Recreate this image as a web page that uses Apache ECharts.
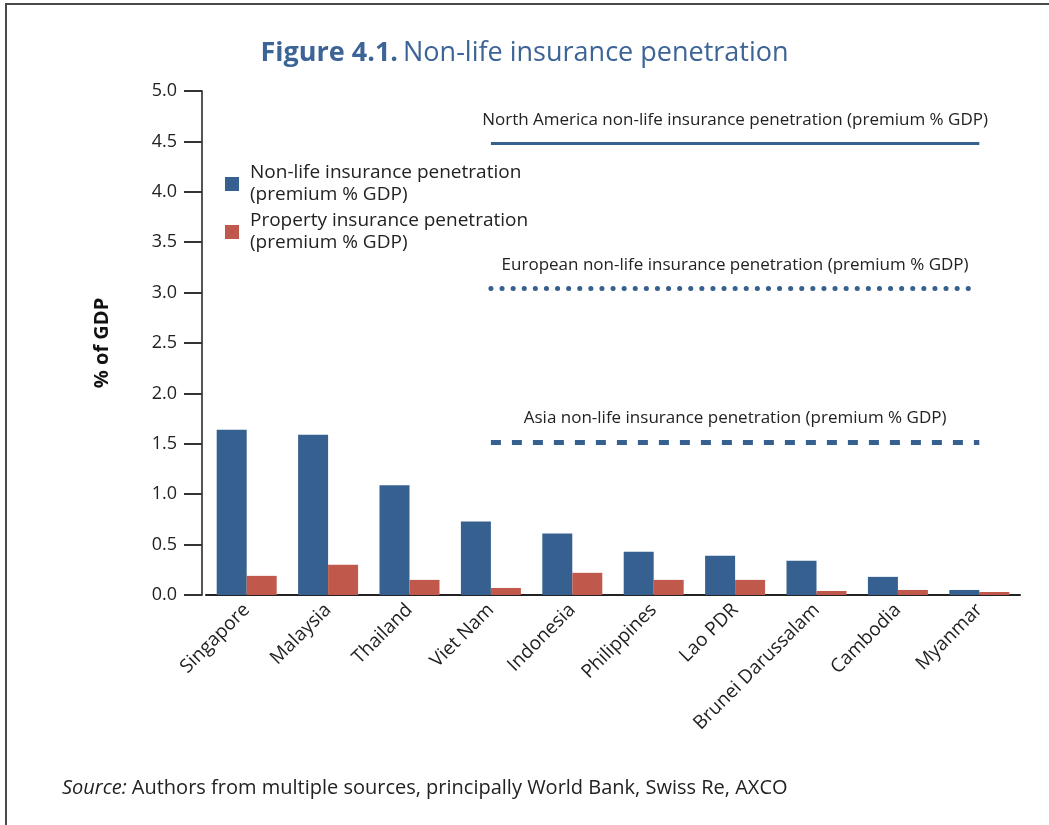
<!DOCTYPE html>
<html>
<head>
<meta charset="utf-8">
<script src="https://cdn.jsdelivr.net/npm/echarts@6/dist/echarts.min.js"></script>
<style>
  html, body { margin: 0; padding: 0; background: #fff; }
  #frame {
    position: absolute; left: 5px; top: 3px; width: 1044px; height: 822px;
    border-left: 2px solid #4a4a4a; border-top: 2px solid #4a4a4a;
    box-sizing: border-box;
  }
  #chart { position: absolute; left: 0; top: 0; width: 1049px; height: 825px; }
</style>
</head>
<body>
<div id="frame"></div>
<div id="chart"></div>
<script>
const countries = ["Singapore", "Malaysia", "Thailand", "Viet Nam", "Indonesia",
  "Philippines", "Lao PDR", "Brunei Darussalam", "Cambodia", "Myanmar"];
const nonLife = [1.64, 1.59, 1.09, 0.73, 0.61, 0.43, 0.39, 0.34, 0.18, 0.05];
const property = [0.19, 0.30, 0.15, 0.07, 0.22, 0.15, 0.15, 0.04, 0.05, 0.03];
const northAmerica = 4.48;
const europe = 3.04;
const asia = 1.52;
const yTicks = [0, 0.5, 1, 1.5, 2, 2.5, 3, 3.5, 4, 4.5, 5];

const BLUE = "#36608f";
const RED = "#c0594b";
const FONT = "'Open Sans', 'Noto Sans', sans-serif";

const chart = echarts.init(document.getElementById("chart"), null, { renderer: "canvas" });

// horizontal reference line spanning Viet Nam .. Myanmar, label centred above it
const refLine = (value, text, lineType, width, cap) => [
  {
    coord: ["Viet Nam", value],
    lineStyle: { color: BLUE, width: width, type: lineType, cap: cap },
    label: {
      show: true,
      position: "insideMiddleTop",
      distance: 15,
      formatter: text,
      color: "#222",
      fontSize: 17,
      fontFamily: FONT
    }
  },
  { coord: ["Myanmar", value] }
];

const option = {
  animation: false,
  title: [
    {
      text: "{b|Figure 4.1.} {r|Non-life insurance penetration}",
      left: "center",
      top: 35,
      textStyle: {
        fontWeight: "normal",
        rich: {
          b: { fontSize: 27, fontWeight: "bold", color: "#3d6496", fontFamily: FONT },
          r: { fontSize: 27, fontWeight: "normal", color: "#3d6496", fontFamily: FONT }
        }
      }
    },
    {
      text: "{i|Source:} {n|Authors from multiple sources, principally World Bank, Swiss Re, AXCO}",
      left: 57,
      top: 773,
      textStyle: {
        fontWeight: "normal",
        rich: {
          i: { fontSize: 20, fontStyle: "italic", fontWeight: "normal", color: "#222", fontFamily: FONT },
          n: { fontSize: 20, fontWeight: "normal", color: "#222", fontFamily: FONT }
        }
      }
    }
  ],
  legend: {
    orient: "vertical",
    left: 220,
    top: 157,
    itemWidth: 14,
    itemHeight: 14,
    itemGap: 4,
    icon: "rect",
    textStyle: { fontSize: 19, color: "#222", fontFamily: FONT, lineHeight: 22, padding: [0, 0, 0, 6] },
    data: ["Non-life insurance penetration\n(premium % GDP)", "Property insurance penetration\n(premium % GDP)"]
  },
  grid: { left: 206, right: 29, top: 91, bottom: 230 },
  xAxis: {
    type: "category",
    data: countries,
    axisLine: { lineStyle: { color: "#222", width: 2 } },
    axisTick: { show: false },
    axisLabel: {
      rotate: 45,
      margin: 12,
      fontSize: 19,
      color: "#222",
      fontFamily: FONT,
      interval: 0
    }
  },
  yAxis: {
    type: "value",
    min: 0,
    max: 5,
    interval: 0.5,
    offset: 4,
    name: "% of GDP",
    nameLocation: "middle",
    nameGap: 90,
    nameTextStyle: { fontSize: 20, fontWeight: "bold", color: "#111", fontFamily: FONT },
    axisLine: { show: true, lineStyle: { color: "#555", width: 2 } },
    axisTick: { show: true, inside: false, length: 18, lineStyle: { color: "#333", width: 2 } },
    splitLine: { show: false },
    axisLabel: {
      margin: 25,
      fontSize: 18,
      color: "#222",
      fontFamily: FONT,
      formatter: (v) => (yTicks.includes(v) ? v.toFixed(1) : "")
    }
  },
  series: [
    {
      name: "Non-life insurance penetration\n(premium % GDP)",
      type: "bar",
      data: nonLife,
      barWidth: 30,
      barGap: "0%",
      itemStyle: { color: BLUE }
    },
    {
      name: "Property insurance penetration\n(premium % GDP)",
      type: "bar",
      data: property,
      barWidth: 30,
      barGap: "0%",
      itemStyle: { color: RED }
    },
    {
      name: "benchmarks",
      type: "line",
      data: [],
      markLine: {
        symbol: "none",
        silent: true,
        data: [
          refLine(northAmerica, "North America non-life insurance penetration (premium % GDP)", "solid", 3, "butt"),
          refLine(europe, "European non-life insurance penetration (premium % GDP)", [0.1, 11], 5, "round"),
          refLine(asia, "Asia non-life insurance penetration (premium % GDP)", [10, 11], 5, "butt")
        ]
      }
    }
  ]
};

chart.setOption(option);
</script>
</body>
</html>
